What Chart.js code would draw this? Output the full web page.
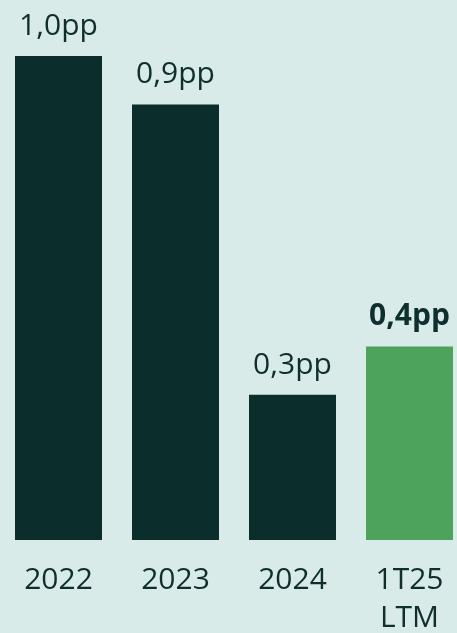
<!DOCTYPE html>
<html><head><meta charset="utf-8">
<script src="https://cdn.jsdelivr.net/npm/chart.js@4/dist/chart.umd.min.js"></script>
<style>
html,body{margin:0;padding:0;background:#d9ebe8;overflow:hidden;width:457px;height:633px;}
#wrap{position:absolute;left:0;top:0;width:468px;height:650px;}
</style></head><body>
<div id="wrap"><canvas id="c" width="468" height="650"></canvas></div>
<script>
const categories = [["2022"], ["2023"], ["2024"], ["1T25", "LTM"]];
const values = [1.0, 0.9, 0.3, 0.4];
const valueLabels = ["1,0pp", "0,9pp", "0,3pp", "0,4pp"];
const highlight = [false, false, false, true];

const DARK = '#0b2e2c', GREEN = '#4ea35c', TEXT = '#0e2f2d';
const FONT = "'Open Sans', sans-serif";

const labelPlugin = {
  id: 'vlabels',
  afterDatasetsDraw(chart) {
    const ctx = chart.ctx;
    const meta = chart.getDatasetMeta(0);
    ctx.save();
    ctx.fillStyle = TEXT;
    ctx.textAlign = 'center';
    ctx.textBaseline = 'alphabetic';
    meta.data.forEach((bar, i) => {
      ctx.font = (highlight[i] ? '700 ' : '400 ') + '30px ' + FONT;
      ctx.fillText(valueLabels[i], bar.x, bar.y - 21);
    });
    ctx.restore();
  }
};

new Chart(document.getElementById('c'), {
  type: 'bar',
  data: {
    labels: categories,
    datasets: [{
      data: values,
      backgroundColor: highlight.map(h => h ? GREEN : DARK),
      barPercentage: 1,
      categoryPercentage: 87/117
    }]
  },
  options: {
    responsive: false,
    animation: false,
    events: [],
    layout: { padding: { top: 56, left: 0, right: 0, bottom: 0 } },
    plugins: { legend: { display: false }, tooltip: { enabled: false } },
    scales: {
      y: { display: false, min: 0, max: 1.0 },
      x: {
        grid: { display: false },
        border: { display: false },
        ticks: {
          color: TEXT,
          padding: 13,
          font: { family: FONT, size: 30, lineHeight: 38/30 }
        }
      }
    }
  },
  plugins: [labelPlugin]
});
</script>
</body></html>
